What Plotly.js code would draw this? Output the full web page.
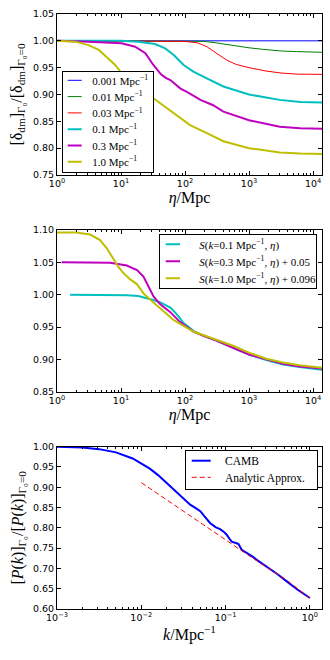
<!DOCTYPE html>
<html>
<head>
<meta charset="utf-8">
<script src="https://cdn.plot.ly/plotly-3.0.1.min.js"></script>
<style>
  html, body { margin: 0; padding: 0; background: #ffffff; }
  #chart { width: 330px; height: 660px; }
</style>
</head>
<body>
<div id="chart"></div>
<script>
// ==================================================
// Data
// ==================================================

// Panel 1: [delta_dm]_Gamma0 / [delta_dm]_Gamma0=0 vs eta
const etaK0001 = [1, 10, 100, 1000, 10000, 13800];
const valK0001 = [1, 1, 1, 1, 1, 1];

const etaK001 = [1, 100, 200, 316, 500, 1000, 1700, 3200, 5500, 10000, 13800];
const valK001 = [1, 1, 0.999, 0.996, 0.992, 0.987, 0.984, 0.981, 0.980, 0.979, 0.9786];

const etaK003 = [1, 40, 100, 160, 220, 275, 320, 400, 450, 630, 1000, 1780, 3160, 5600, 10000, 13800];
const valK003 = [1, 1, 0.999, 0.996, 0.989, 0.981, 0.976, 0.968, 0.964, 0.956, 0.950, 0.944, 0.940, 0.938, 0.9377, 0.9375];

const etaK01 = [1, 3.2, 10, 18.6, 34, 49, 66, 95, 135, 219, 398, 1000, 3020, 6300, 13800];
const valK01 = [1, 1, 1, 0.9985, 0.994, 0.986, 0.974, 0.955, 0.9425, 0.930, 0.915, 0.900, 0.890, 0.886, 0.885];

const etaK03 = [1, 3.1, 10.2, 16.6, 24, 31.6, 41.7, 50, 59, 85, 107, 174, 275, 398, 1000, 3020, 6300, 13800];
const valK03 = [1, 0.9985, 0.9955, 0.989, 0.977, 0.956, 0.938, 0.931, 0.927, 0.911, 0.905, 0.890, 0.880, 0.868, 0.852, 0.840, 0.837, 0.836];

const etaK1 = [1, 1.93, 3.1, 4.5, 6.3, 8.1, 9.8, 15.8, 32, 66, 120, 219, 398, 1000, 3020, 6300, 13800];
const valK1 = [1, 0.9985, 0.992, 0.983, 0.967, 0.955, 0.9425, 0.920, 0.893, 0.865, 0.843, 0.828, 0.813, 0.800, 0.792, 0.790, 0.789];

const kLabels = ["0.001 Mpc<sup>−1</sup>", "0.01 Mpc<sup>−1</sup>", "0.03 Mpc<sup>−1</sup>",
                 "0.1 Mpc<sup>−1</sup>", "0.3 Mpc<sup>−1</sup>", "1.0 Mpc<sup>−1</sup>"];

// Panel 2: S(k, eta) with offsets
const etaS01 = [1.6, 4, 12.3, 18.6, 25, 34, 41, 49, 59, 74, 95, 135, 200, 309, 562, 1020, 1860, 3390, 6170, 13800];
const valS01 = [1.0, 1.0, 0.999, 0.998, 0.995, 0.991, 0.988, 0.984, 0.980, 0.970, 0.956, 0.944, 0.936, 0.929, 0.918, 0.907, 0.899, 0.892, 0.888, 0.884];

const etaS03 = [1.18, 6.8, 12.3, 17.8, 22.4, 27, 32.4, 41, 59, 83, 135, 200, 309, 562, 1020, 1860, 3390, 6170, 13800];
const valS03 = [1.05, 1.0495, 1.045, 1.038, 1.028, 1.012, 0.997, 0.985, 0.973, 0.958, 0.943, 0.936, 0.929, 0.918, 0.907, 0.900, 0.893, 0.889, 0.886];

const etaS1 = [1, 2, 3.3, 4.7, 6.0, 7.6, 9.1, 11, 13.8, 17.8, 22.4, 28.8, 41, 66, 135, 309, 562, 1020, 1860, 3390, 6170, 13800];
const valS1 = [1.096, 1.096, 1.093, 1.0845, 1.0717, 1.056, 1.043, 1.033, 1.024, 1.016, 1.002, 0.992, 0.979, 0.961, 0.943, 0.930, 0.921, 0.910, 0.901, 0.895, 0.891, 0.887];

const sLabels = [
  "<i>S</i>(<i>k</i>=0.1 Mpc<sup>−1</sup>, <i>η</i>)",
  "<i>S</i>(<i>k</i>=0.3 Mpc<sup>−1</sup>, <i>η</i>) + 0.05",
  "<i>S</i>(<i>k</i>=1.0 Mpc<sup>−1</sup>, <i>η</i>) + 0.096",
];

// Panel 3: power spectrum ratio vs k
const kCamb = [0.001, 0.002, 0.00316, 0.005, 0.0079, 0.01, 0.0126, 0.0158, 0.02, 0.0251, 0.0316, 0.038,
               0.0447, 0.0501, 0.0562, 0.0653, 0.0759, 0.0859, 0.0955, 0.103, 0.112, 0.118, 0.135, 0.142,
               0.155, 0.17, 0.186, 0.209, 0.234, 0.282, 0.336, 0.417, 0.53, 0.708, 1.0];
const valCamb = [1.000, 0.998, 0.994, 0.986, 0.971, 0.959, 0.946, 0.930, 0.910, 0.890, 0.871, 0.857,
                 0.848, 0.841, 0.828, 0.812, 0.802, 0.797, 0.790, 0.783, 0.772, 0.766, 0.762, 0.760,
                 0.746, 0.741, 0.737, 0.729, 0.721, 0.710, 0.6985, 0.685, 0.668, 0.648, 0.627];

const kApprox = [0.01, 0.02, 0.05, 0.1, 0.2, 0.5, 1.0];
const valApprox = [0.9115, 0.869, 0.812, 0.770, 0.728, 0.675, 0.627];

// Tick labels
const etaTickVals = [1, 10, 100, 1000, 10000];
const etaTickText = ["10<sup>0</sup>", "10<sup>1</sup>", "10<sup>2</sup>", "10<sup>3</sup>", "10<sup>4</sup>"];
const kTickVals = [0.001, 0.01, 0.1, 1];
const kTickText = ["10<sup>−3</sup>", "10<sup>−2</sup>", "10<sup>−1</sup>", "10<sup>0</sup>"];

// ==================================================
// Layout helpers
// ==================================================

const W = 330, H = 660;
const M = { l: 57, r: 8, t: 14, b: 51 };
const PH = H - M.t - M.b;
const dom = (top, bot) => [1 - (bot - M.t) / PH, 1 - (top - M.t) / PH];

const SANS = "DejaVu Sans, sans-serif";
const SERIF = "Liberation Serif, DejaVu Serif, serif";
const C = { b: "#0000ff", g: "#008000", r: "#ff0000", c: "#00bfbf", m: "#bf00bf", y: "#bfbf00" };

function xAxis(anchor, tickvals, ticktext, range, title, standoff) {
  return {
    type: "log", anchor: anchor, range: range,
    tickmode: "array", tickvals: tickvals, ticktext: ticktext,
    ticks: "inside", ticklen: 4, tickwidth: 1, tickcolor: "#000",
    minor: { ticks: "inside", ticklen: 2, tickwidth: 1, tickcolor: "#000", dtick: "D1", showgrid: false },
    showline: true, linecolor: "#000", linewidth: 1, mirror: "ticks",
    showgrid: false, zeroline: false,
    tickfont: { family: SANS, size: 9.5, color: "#000" },
    automargin: true,
    title: { text: title, font: { family: SERIF, size: 16, color: "#000" }, standoff: standoff },
  };
}

function yAxis(anchor, domain, range, title, standoff) {
  return {
    anchor: anchor, domain: domain, range: range,
    dtick: 0.05, tick0: 0, tickformat: ".2f",
    ticks: "inside", ticklen: 4, tickwidth: 1, tickcolor: "#000",
    showline: true, linecolor: "#000", linewidth: 1, mirror: "ticks",
    showgrid: false, zeroline: false,
    tickfont: { family: SANS, size: 9.5, color: "#000" },
    automargin: true,
    title: { text: title, font: { family: SERIF, size: 16, color: "#000" }, standoff: standoff },
  };
}

function line(x, y, name, color, width, xa, ya, legend, dash) {
  return {
    type: "scatter", mode: "lines", x: x, y: y, name: name,
    xaxis: xa, yaxis: ya, legend: legend,
    line: { color: color, width: width, dash: dash || "solid" },
    hoverinfo: "skip",
  };
}

function legendBox(x, y, xanchor, size) {
  return {
    x: x, y: y, xanchor: xanchor, yanchor: "top",
    bgcolor: "#ffffff", bordercolor: "#000", borderwidth: 1,
    font: { family: SERIF, size: size, color: "#000" },
    tracegroupgap: 0,
  };
}

// Plotly keeps legend rows at least 19px apart; matplotlib packs them tighter
// and uses shorter sample lines. Re-place the rows once drawn.
function tightenLegend(gd, id, box) {
  const g = gd.querySelector("g." + id);
  if (!g) return;

  const items = Array.from(g.querySelectorAll("g.traces"));
  let textW = 0;

  items.forEach((item, i) => {
    item.setAttribute("transform", `translate(0,${box.first + i * box.step})`);
    item.querySelectorAll("g.legendlines path").forEach(p => {
      p.setAttribute("d", `M${box.s0},0h${box.s1 - box.s0}`);
    });
    const text = item.querySelector("text.legendtext");
    if (text) {
      text.setAttribute("x", box.textX);
      textW = Math.max(textW, text.getBBox().width);
    }
  });

  const w = Math.max(box.w, box.textX + textW + 4);
  const left = box.right !== undefined ? box.right - w : box.left;
  g.setAttribute("transform", `translate(${left},${box.top})`);

  const bg = g.querySelector("rect.bg");
  if (bg) {
    bg.setAttribute("x", 0.5);
    bg.setAttribute("y", 0.5);
    bg.setAttribute("width", w);
    bg.setAttribute("height", box.h);
  }
}

// ==================================================
// Traces
// ==================================================

const traces = [
  line(etaK0001, valK0001, kLabels[0], C.b, 1, "x", "y", "legend"),
  line(etaK001, valK001, kLabels[1], C.g, 1, "x", "y", "legend"),
  line(etaK003, valK003, kLabels[2], C.r, 1, "x", "y", "legend"),
  line(etaK01, valK01, kLabels[3], C.c, 2, "x", "y", "legend"),
  line(etaK03, valK03, kLabels[4], C.m, 2, "x", "y", "legend"),
  line(etaK1, valK1, kLabels[5], C.y, 2, "x", "y", "legend"),

  line(etaS01, valS01, sLabels[0], C.c, 2, "x2", "y2", "legend2"),
  line(etaS03, valS03, sLabels[1], C.m, 2, "x2", "y2", "legend2"),
  line(etaS1, valS1, sLabels[2], C.y, 2, "x2", "y2", "legend2"),

  line(kCamb, valCamb, "CAMB", C.b, 2, "x3", "y3", "legend3"),
  line(kApprox, valApprox, "Analytic Approx.", C.r, 1, "x3", "y3", "legend3", "5px,3px"),
];

// ==================================================
// Layout
// ==================================================

const etaRange = [0, Math.log10(13800)];
const kRange = [-3, 0.143];

const layout = {
  width: W, height: H,
  margin: M,
  paper_bgcolor: "#ffffff",
  plot_bgcolor: "#ffffff",
  showlegend: true,

  xaxis: xAxis("y", etaTickVals, etaTickText, etaRange, "<i>η</i>/Mpc", 2),
  yaxis: yAxis("x", dom(14, 175), [0.75, 1.05],
    "[δ<sub>dm</sub>]<sub>Γ₀</sub>/[δ<sub>dm</sub>]<sub>Γ₀=0</sub>", 6),

  xaxis2: xAxis("y2", etaTickVals, etaTickText, etaRange, "<i>η</i>/Mpc", 2),
  yaxis2: yAxis("x2", dom(230, 391.7), [0.85, 1.10], "", 0),

  xaxis3: xAxis("y3", kTickVals, kTickText, kRange, "<i>k</i>/Mpc<sup>−1</sup>", 0),
  yaxis3: yAxis("x3", dom(446.7, 609), [0.60, 1.00],
    "[<i>P</i>(<i>k</i>)]<sub>Γ₀</sub>/[<i>P</i>(<i>k</i>)]<sub>Γ₀=0</sub>", 5),

  legend: legendBox(0.018, 1 - (71 - M.t) / PH, "left", 11),
  legend2: legendBox(0.976, 1 - (234 - M.t) / PH, "right", 11),
  legend3: legendBox(0.976, 1 - (450 - M.t) / PH, "right", 11.5),
};

Plotly.newPlot("chart", traces, layout, { displayModeBar: false, staticPlot: true }).then(gd => {
  tightenLegend(gd, "legend", { left: 61.7, top: 71, w: 91.6, h: 101.3, first: 9.3, step: 16.3, s0: 6, s1: 20, textX: 30.6 });
  tightenLegend(gd, "legend2", { right: 315.7, top: 234, w: 156.4, h: 53.7, first: 10.3, step: 17, s0: 6.4, s1: 20.7, textX: 31.7 });
  tightenLegend(gd, "legend3", { right: 317.3, top: 450, w: 132.3, h: 39.3, first: 10.7, step: 16.6, s0: 6.7, s1: 25.7, textX: 37.7 });
});
</script>
</body>
</html>
